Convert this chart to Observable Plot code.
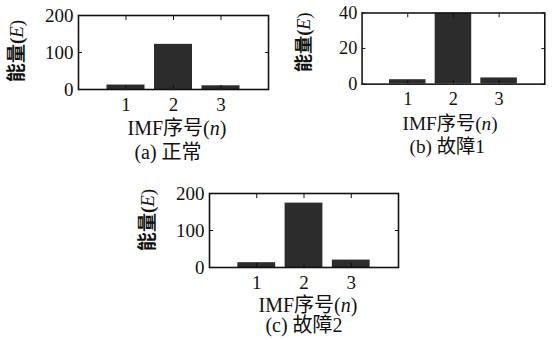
<!DOCTYPE html>
<html>
<head>
<meta charset="utf-8">
<script src="https://cdn.jsdelivr.net/npm/d3@7"></script>
<script src="https://cdn.jsdelivr.net/npm/@observablehq/plot@0.6"></script>
<style>
  html, body { margin: 0; padding: 0; background: #fff; }
  #wrap { position: relative; width: 552px; height: 340px; overflow: hidden; background: #fff; }
  .panel { position: absolute; }
  .panel svg { overflow: visible; }
</style>
</head>
<body>
<div id="wrap"></div>
<script>
// ---- data ----
const imf = [1, 2, 3];                 // IMF index n
const energyNormal = [12, 122, 10];    // (a) 正常
const energyFault1 = [2.5, 40, 3.5];   // (b) 故障1
const energyFault2 = [13, 174, 20];    // (c) 故障2
const yTicksA = [0, 100, 200];
const yTicksB = [0, 20, 40];
const yTicksC = [0, 100, 200];
const yLabelMain = "能量(";
const yLabelVar = "E";
const xLabelMain = "IMF序号(";
const xLabelVar = "n";
const captions = ["(a) 正常", "(b) 故障1", "(c) 故障2"];

const SERIF = "'Liberation Serif', 'Noto Sans CJK SC', serif";
const wrap = document.getElementById("wrap");
const noText = () => "";

function panel(cfg) {
  const data = imf.map((n, i) => ({n, E: cfg.values[i]}));
  const ymax = cfg.yTicks[cfg.yTicks.length - 1];
  const svg = Plot.plot({
    width: cfg.width,
    height: 170,
    marginLeft: cfg.ml,
    marginRight: cfg.mr,
    marginTop: cfg.mt,
    marginBottom: cfg.mb,
    x: {domain: [0, 4]},
    y: {domain: [0, ymax]},
    style: {fontFamily: SERIF, fontSize: "19px", color: "#111", background: "transparent"},
    marks: [
      Plot.rectY(data, {x1: d => d.n - 0.4, x2: d => d.n + 0.4, y: "E", fill: "#2c2c2c", clip: true}),
      Plot.axisX({ticks: imf, tickSize: 0, tickPadding: 8, tickFormat: d => String(d), label: null,
                  fontFamily: SERIF, fontSize: 19, fontVariant: "normal"}),
      Plot.axisX({ticks: imf, tickSize: -4, anchor: "bottom", tickFormat: noText, label: null}),
      Plot.axisX({ticks: imf, tickSize: -4, anchor: "top", tickFormat: noText, label: null}),
      Plot.axisY({ticks: cfg.yTicks, tickSize: 0, tickPadding: 5, tickFormat: d => String(d), label: null,
                  fontFamily: SERIF, fontSize: 19, fontVariant: "normal"}),
      Plot.axisY({ticks: cfg.yTicks, tickSize: -4, anchor: "left", tickFormat: noText, label: null}),
      Plot.axisY({ticks: cfg.yTicks, tickSize: -4, anchor: "right", tickFormat: noText, label: null}),
      Plot.frame({stroke: "#111", strokeWidth: 1.6})
    ]
  });
  const div = document.createElement("div");
  div.className = "panel";
  div.style.left = cfg.left + "px";
  div.style.top = cfg.top + "px";
  div.appendChild(svg);
  wrap.appendChild(div);

  const s = d3.select(svg);
  // y label (rotated)
  const yl = s.append("text")
    .attr("transform", `translate(${cfg.yl[0]},${cfg.yl[1]}) rotate(-90)`)
    .attr("text-anchor", "middle")
    .attr("dominant-baseline", "central")
    .attr("font-family", SERIF)
    .attr("font-size", 19)
    .attr("font-weight", "bold")
    .attr("fill", "#111");
  yl.append("tspan").text(yLabelMain);
  yl.append("tspan").attr("font-style", "italic").attr("font-weight", "normal").text(yLabelVar);
  yl.append("tspan").attr("font-weight", "normal").text(")");
  // x label
  const xl = s.append("text")
    .attr("x", cfg.xl[0]).attr("y", cfg.xl[1])
    .attr("text-anchor", "middle")
    .attr("dominant-baseline", "central")
    .attr("font-family", SERIF)
    .attr("font-size", 20)
    .attr("fill", "#111");
  xl.append("tspan").text(xLabelMain);
  xl.append("tspan").attr("font-style", "italic").text(xLabelVar);
  xl.append("tspan").text(")");
  // caption
  s.append("text")
    .attr("x", cfg.cap[0]).attr("y", cfg.cap[1])
    .attr("text-anchor", "middle")
    .attr("dominant-baseline", "central")
    .attr("font-family", SERIF)
    .attr("font-size", 20)
    .attr("fill", "#111")
    .text(cfg.caption);
}

panel({left: 0, top: 0, width: 276, ml: 78, mr: 8, mt: 15, mb: 81,
       values: energyNormal, yTicks: yTicksA, caption: captions[0],
       yl: [16, 51], xl: [177, 128], cap: [168, 152]});
panel({left: 276, top: 0, width: 287, ml: 89, mr: 8, mt: 13, mb: 83,
       values: energyFault1, yTicks: yTicksB, caption: captions[1],
       yl: [29, 44], xl: [181, 128], cap: [178, 152]});
panel({left: 130, top: 170, width: 276, ml: 79, mr: 8, mt: 23, mb: 73,
       values: energyFault2, yTicks: yTicksC, caption: captions[2],
       yl: [17, 50], xl: [178, 135], cap: [174, 155]});
</script>
</body>
</html>
